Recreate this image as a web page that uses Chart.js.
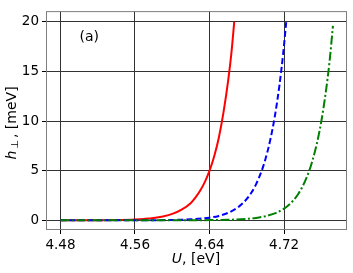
<!DOCTYPE html>
<html>
<head>
<meta charset="utf-8">
<script src="https://cdn.jsdelivr.net/npm/chart.js@4"></script>
<style>
  html, body { margin: 0; padding: 0; background: #fff; }
  #wrap { width: 353px; height: 273px; }
</style>
</head>
<body>
<div id="wrap"><canvas id="h-chart" width="353" height="273"></canvas></div>
<script>
// values
const uRed = [4.48, 4.50, 4.52, 4.54, 4.56, 4.57, 4.58, 4.59, 4.60, 4.61, 4.62, 4.625, 4.63, 4.635, 4.64, 4.645, 4.65, 4.655, 4.66, 4.6635, 4.6665];
const hRed = [0.00, 0.004, 0.011, 0.03, 0.083, 0.14, 0.23, 0.39, 0.64, 1.07, 1.75, 2.3, 2.99, 3.87, 5.0, 6.46, 8.35, 10.9, 14.1, 16.9, 20.0];

const uBlue = [4.48, 4.52, 4.56, 4.60, 4.62, 4.64, 4.65, 4.66, 4.67, 4.675, 4.68, 4.685, 4.69, 4.696, 4.70, 4.705, 4.71, 4.715, 4.719, 4.7223];
const hBlue = [0.00, 0.001, 0.004, 0.032, 0.092, 0.26, 0.44, 0.75, 1.27, 1.66, 2.15, 2.8, 3.65, 5.0, 6.17, 8.03, 10.45, 13.6, 16.8, 20.0];

const uGreen = [4.48, 4.56, 4.60, 4.64, 4.66, 4.68, 4.69, 4.70, 4.71, 4.72, 4.725, 4.73, 4.735, 4.74, 4.747, 4.75, 4.755, 4.76, 4.765, 4.769, 4.7724];
const hGreen = [0.00, 0.001, 0.002, 0.016, 0.048, 0.14, 0.24, 0.41, 0.69, 1.18, 1.54, 2.01, 2.63, 3.44, 5.0, 5.87, 7.67, 10.0, 13.1, 16.2, 19.6];

const xTicks = [4.48, 4.56, 4.64, 4.72];
const yTicks = [0, 5, 10, 15, 20];

const FONT = 'DejaVu Sans';

function toPoints(us, hs) {
	return us.map((u, i) => ({ x: u, y: hs[i] }));
}

const framePlugin = {
	id: 'frame',
	afterDraw(chart) {
		const c = chart.ctx;
		const a = chart.chartArea;
		c.save();
		c.strokeStyle = '#7f7f7f';
		c.lineWidth = 1;
		c.strokeRect(a.left + 0.5, a.top + 0.5, a.right - a.left - 1, a.bottom - a.top - 1);

		c.fillStyle = '#000';
		c.textBaseline = 'middle';

		// panel label
		const sx = chart.scales.x, sy = chart.scales.y;
		c.font = '14px ' + FONT;
		c.textAlign = 'left';
		c.fillText('(a)', sx.getPixelForValue(4.5005), sy.getPixelForValue(18.4));

		// x title: U, [eV]
		c.font = 'italic 14px ' + FONT;
		const wU = c.measureText('U').width;
		c.font = '14px ' + FONT;
		const wRest = c.measureText(', [eV]').width;
		let x0 = 196 - (wU + wRest) / 2;
		c.font = 'italic 14px ' + FONT;
		c.fillText('U', x0, 259);
		c.font = '14px ' + FONT;
		c.fillText(', [eV]', x0 + wU, 259);

		// y title: h_perp, [meV]
		c.translate(12.5, 123);
		c.rotate(-Math.PI / 2);
		c.font = 'italic 14px ' + FONT;
		const wh = c.measureText('h').width;
		c.font = '10px ' + FONT;
		const wp = c.measureText('\u22A5').width;
		c.font = '14px ' + FONT;
		const wr = c.measureText(', [meV]').width;
		const total = wh + 2 + wp + 2 + wr;
		let px = -total / 2;
		c.font = 'italic 14px ' + FONT;
		c.fillText('h', px, 0);
		px += wh + 2;
		c.font = '10px ' + FONT;
		c.fillText('\u22A5', px, 3);
		px += wp + 2;
		c.font = '14px ' + FONT;
		c.fillText(', [meV]', px, 0);
		c.restore();
	}
};

const ctx = document.getElementById('h-chart').getContext('2d');

new Chart(ctx, {
	type: 'line',
	data: {
		datasets: [{
			data: toPoints(uRed, hRed),
			borderColor: '#ff0000',
			borderWidth: 2,
			order: 3,
		}, {
			data: toPoints(uBlue, hBlue),
			borderColor: '#0000ff',
			borderWidth: 2,
			borderDash: [6, 3],
			order: 2,
		}, {
			data: toPoints(uGreen, hGreen),
			borderColor: '#008000',
			borderWidth: 2,
			borderDash: [9, 2.5, 2, 2.5],
			order: 1,
		}]
	},
	options: {
		responsive: false,
		animation: false,
		cubicInterpolationMode: 'monotone',
		pointRadius: 0,
		layout: { padding: { left: 0, right: 6, top: 5, bottom: 0 } },
		plugins: {
			legend: { display: false },
			tooltip: { enabled: false },
		},
		elements: { point: { radius: 0 } },
		scales: {
			x: {
				type: 'linear',
				min: 4.4645,
				max: 4.7875,
				afterBuildTicks: (scale) => { scale.ticks = xTicks.map(v => ({ value: v })); },
				afterFit: (scale) => { scale.height = 43; },
				ticks: {
					color: '#000',
					font: { family: FONT, size: 13.5 },
					padding: 3,
					maxRotation: 0,
					callback: (v) => v.toFixed(2),
				},
				grid: { color: '#333', lineWidth: 1, tickLength: 4, tickColor: '#000' },
				border: { display: false },
			},
			y: {
				type: 'linear',
				min: -0.98,
				max: 21.08,
				afterBuildTicks: (scale) => { scale.ticks = yTicks.map(v => ({ value: v })); },
				afterFit: (scale) => { scale.width = 46; },
				ticks: {
					color: '#000',
					font: { family: FONT, size: 13.5 },
					padding: 3,
					callback: (v) => String(v),
				},
				grid: { color: '#333', lineWidth: 1, tickLength: 4, tickColor: '#000' },
				border: { display: false },
			}
		}
	},
	plugins: [framePlugin]
});
</script>
</body>
</html>
